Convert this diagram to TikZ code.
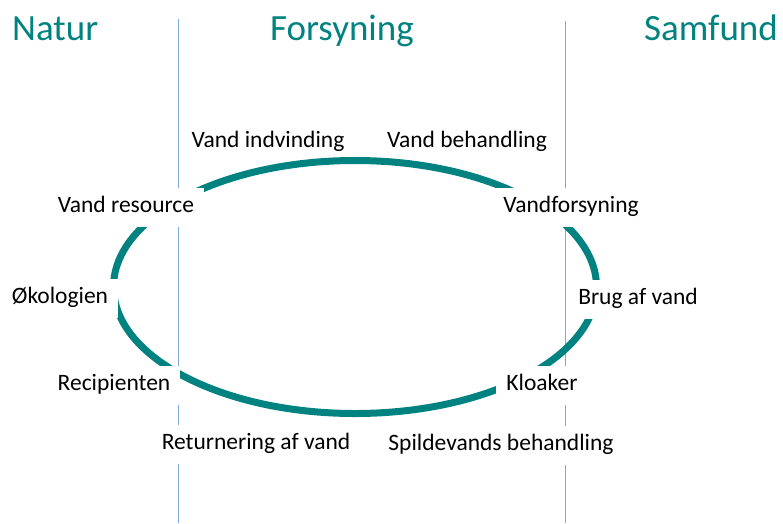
\documentclass[tikz,border=0pt]{standalone}
\usepackage{fontspec}
\setmainfont{Carlito}
\definecolor{seablue}{RGB}{0,131,128}
\definecolor{divider}{RGB}{125,170,225}
\tikzset{
  title/.style={text=seablue, font=\fontsize{37}{40}\selectfont, inner sep=0pt},
  lbl/.style={fill=white, inner xsep=10pt, inner ysep=9pt, text height=16pt, text depth=5pt, font=\fontsize{23.5}{26}\selectfont}
}
\begin{document}
\begin{tikzpicture}[x=1pt,y=-1pt]
                    \useasboundingbox (0,0) rectangle (783,523);
                    \draw[divider, line width=1pt] (178,19) -- (178,523);
                    \draw[divider, line width=1pt] (565,21) -- (565,523);
                    \draw[seablue, line width=7pt] (355,287) ellipse (241.5 and 126.5);
                    \node[title, anchor=base west] (natur) at (12,40) {Natur};
                    \node[title, anchor=base] (forsyning) at (342,40) {Forsyning};
                    \node[title, anchor=base east] (samfund) at (778,40) {Samfund};
                    \node[lbl, inner ysep=3pt] (indvind) at (268,142) {Vand indvinding};
                    \node[lbl, inner ysep=3pt] (behandl) at (467,142) {Vand behandling};
                    \node[lbl] (resource) at (126,207) {Vand resource};
                    \node[lbl] (vandfors) at (571,207) {Vandforsyning};
                    \node[lbl] (oekologi) at (60,298) {Økologien};
                    \node[lbl] (brug) at (638,299) {Brug af vand};
                    \node[lbl] (recip) at (114,385) {Recipienten};
                    \node[lbl] (kloak) at (542,385) {Kloaker};
                    \node[lbl] (retur) at (256,444) {Returnering af vand};
                    \node[lbl] (spild) at (501,445) {Spildevands behandling};
                \end{tikzpicture}
\end{document}
